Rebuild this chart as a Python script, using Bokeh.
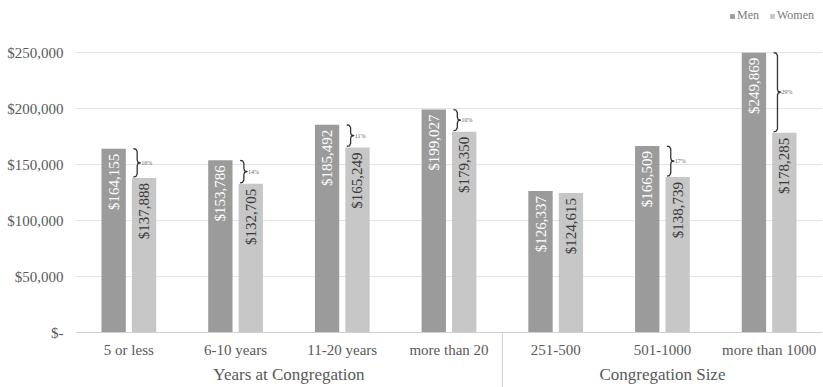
from bokeh.plotting import figure
from bokeh.models import Range1d, FixedTicker, Span, ColumnDataSource, Legend, LegendItem
from bokeh.embed import file_html
from bokeh.resources import INLINE
from bokeh.core.properties import value
import math

# ---------------- data ----------------
categories = ["5 or less", "6-10 years", "11-20 years", "more than 20",
              "251-500", "501-1000", "more than 1000"]
groups = ["Years at Congregation", "Congregation Size"]
group_sizes = [4, 3]
men = [164155, 153786, 185492, 199027, 126337, 166509, 249869]
women = [137888, 132705, 165249, 179350, 124615, 138739, 178285]
gap_pct = ["16%", "14%", "11%", "10%", "", "17%", "29%"]
y_ticks = [0, 50000, 100000, 150000, 200000, 250000]
y_tick_labels = ["$-", "$50,000", "$100,000", "$150,000", "$200,000", "$250,000"]

# ---------------- styling ----------------
FONT = "Liberation Serif"
MEN_C = "#9b9b9b"
WOMEN_C = "#c7c7c7"
TXT = "#595959"
W, H = 823, 387
LEFT = 75
PX = 250000 / 280.0          # data units per screen pixel (vertical)
off = 0.1425
bw = 0.228

xc = [i + 0.5 for i in range(len(categories))]

p = figure(width=W, height=H, output_backend="svg", toolbar_location=None,
           x_axis_location=None,
           x_range=Range1d(0, len(categories)),
           y_range=Range1d(-55 * PX, 250000 + 52 * PX),
           min_border_left=LEFT, min_border_right=1, min_border_top=0, min_border_bottom=0)
p.outline_line_color = None
p.background_fill_color = "white"
p.xgrid.visible = False
p.ygrid.ticker = FixedTicker(ticks=y_ticks[1:])
p.ygrid.grid_line_color = "#e4e4e4"
p.ygrid.grid_line_width = 1

ax = p.yaxis[0]
ax.ticker = FixedTicker(ticks=y_ticks)
ax.major_label_overrides = {t: l for t, l in zip(y_ticks, y_tick_labels)}
ax.axis_line_color = None
ax.major_tick_line_color = None
ax.minor_tick_line_color = None
ax.major_tick_out = 0
ax.major_tick_in = 0
ax.major_label_standoff = 12
ax.major_label_text_font = FONT
ax.major_label_text_font_size = "15px"
ax.major_label_text_color = TXT

# baseline
p.add_layout(Span(location=0, dimension="width", line_color="#d0d0d0", line_width=1))

src = ColumnDataSource(dict(
    x_m=[x - off for x in xc], x_w=[x + off for x in xc],
    men=men, women=women,
    lm=["${:,}".format(v) for v in men],
    lw=["${:,}".format(v) for v in women],
))
r_m = p.vbar(x="x_m", top="men", width=bw, source=src, fill_color=MEN_C, line_color=None)
r_w = p.vbar(x="x_w", top="women", width=bw, source=src, fill_color=WOMEN_C, line_color=None)

# value labels inside bars (rotated)
p.text(x="x_m", y="men", text="lm", source=src, angle=math.pi / 2,
       text_align="right", text_baseline="middle", y_offset=5,
       text_font=value(FONT), text_font_size="15px", text_color="white")
p.text(x="x_w", y="women", text="lw", source=src, angle=math.pi / 2,
       text_align="right", text_baseline="middle", y_offset=5,
       text_font=value(FONT), text_font_size="15px", text_color="#3a3a3a")

# braces with percent gap
bxs, bys, tx, ty, tt = [], [], [], [], []
for c, m, w, g in zip(xc, men, women, gap_pct):
    if not g:
        continue
    top, bot = m, w + 1 * PX
    mid = (top + bot) / 2
    a, b, t = c + 0.042, c + 0.078, c + 0.108
    h = 3 * PX
    bxs.append([a, b - 0.012, b, b, b + 0.006, t, b + 0.006, b, b, b - 0.012, a])
    bys.append([top, top - 0.6 * PX, top - h, mid + h, mid + 0.8 * PX, mid,
                mid - 0.8 * PX, mid - h, bot + h, bot + 0.6 * PX, bot])
    tx.append(t + 0.008)
    ty.append(mid)
    tt.append(g)
p.multi_line(xs=bxs, ys=bys, line_color="#333333", line_width=1.3, line_join="round")
p.text(x=tx, y=ty, text=tt, text_align="left", text_baseline="middle",
       text_font=value(FONT), text_font_size="6px", text_color="#666666")

# category labels
p.text(x=xc, y=[0] * len(xc), text=categories, y_offset=17,
       text_align="center", text_baseline="middle",
       text_font=value(FONT), text_font_size="15px", text_color=TXT)

# group labels and separator
gx, start = [], 0
for n in group_sizes:
    gx.append(start + n / 2.0)
    start += n
p.text(x=gx, y=[0] * len(gx), text=groups, y_offset=42,
       text_align="center", text_baseline="middle",
       text_font=value(FONT), text_font_size="17px", text_color=TXT)
sep_x = [float(sum(group_sizes[:k + 1])) for k in range(len(group_sizes) - 1)]
p.segment(x0=sep_x, y0=[0] * len(sep_x), x1=sep_x, y1=[-60 * PX] * len(sep_x),
          line_color="#d0d0d0", line_width=1)

legend = Legend(items=[LegendItem(label="Men", renderers=[r_m]),
                       LegendItem(label="Women", renderers=[r_w])],
                orientation="horizontal", location="top_right",
                label_text_font=FONT, label_text_font_size="12px",
                label_text_color="#7a7a7a", glyph_width=6, glyph_height=6,
                label_standoff=2, spacing=10, padding=0, margin=8,
                label_height=12, border_line_color=None, background_fill_alpha=0)
p.add_layout(legend)

open("out.html", "w").write(file_html(p, INLINE))
